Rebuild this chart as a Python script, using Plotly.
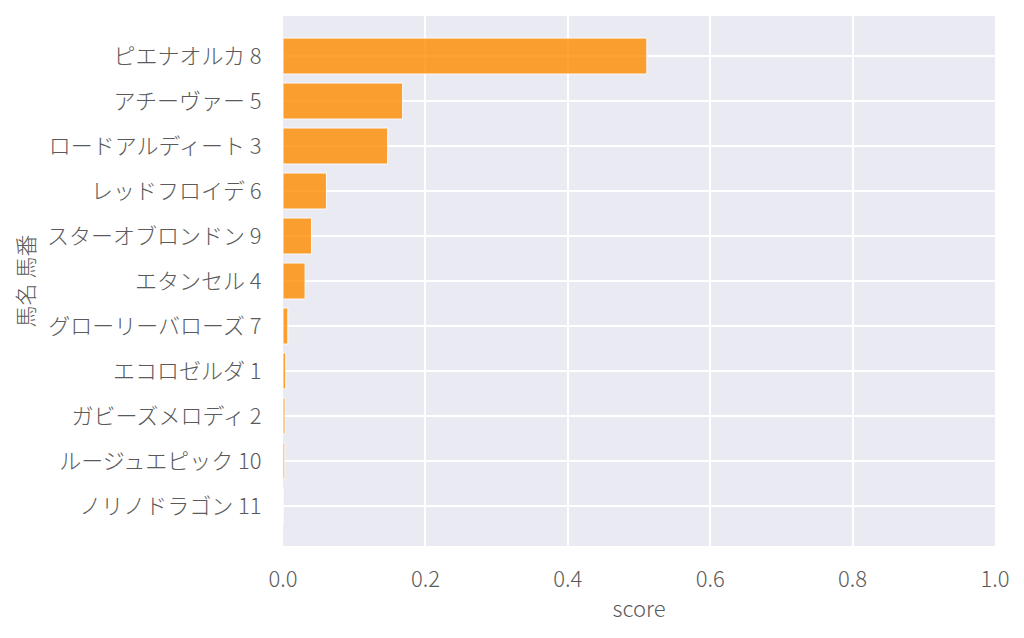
import plotly.graph_objects as go

horses = ["ノリノドラゴン 11", "ルージュエピック 10", "ガビーズメロディ 2", "エコロゼルダ 1",
          "グローリーバローズ 7", "エタンセル 4", "スターオブロンドン 9", "レッドフロイデ 6",
          "ロードアルディート 3", "アチーヴァー 5", "ピエナオルカ 8"]
scores = [0.0008, 0.0025, 0.0028, 0.0038, 0.0068, 0.031, 0.04, 0.061, 0.147, 0.168, 0.511]
x_ticks = [0.0, 0.2, 0.4, 0.6, 0.8, 1.0]
x_ticklabels = ["0.0", "0.2", "0.4", "0.6", "0.8", "1.0"]

FONT = "Noto Sans CJK JP Light, Noto Sans CJK JP"

fig = go.Figure(go.Bar(
    x=scores, y=horses, orientation="h",
    marker=dict(color="darkorange", line=dict(color="white", width=1)),
    opacity=0.8,
))

fig.update_layout(
    width=1024, height=638,
    template="seaborn",
    paper_bgcolor="white",
    plot_bgcolor="rgb(234,234,242)",
    margin=dict(l=275, r=37, t=8, b=100),
    font=dict(family=FONT, size=22, color="rgb(90,90,90)", weight=200),
    showlegend=False,
)
fig.update_xaxes(
    range=[0, 1], tickvals=x_ticks, ticktext=x_ticklabels,
    showgrid=True, gridcolor="white", gridwidth=2, zeroline=False,
    showline=False, ticks="outside", ticklen=14, tickcolor="rgba(0,0,0,0)",
    title=dict(text="score", standoff=9, font=dict(size=22)),
)
fig.update_yaxes(
    type="category", categoryorder="array", categoryarray=horses,
    range=[-0.89, 10.89],
    showgrid=True, gridcolor="white", gridwidth=2, zeroline=False,
    showline=False, ticks="outside", ticklen=16, tickcolor="rgba(0,0,0,0)",
    title=dict(text="馬名 馬番", standoff=6, font=dict(size=22)),
)

fig.write_html("out.html")
